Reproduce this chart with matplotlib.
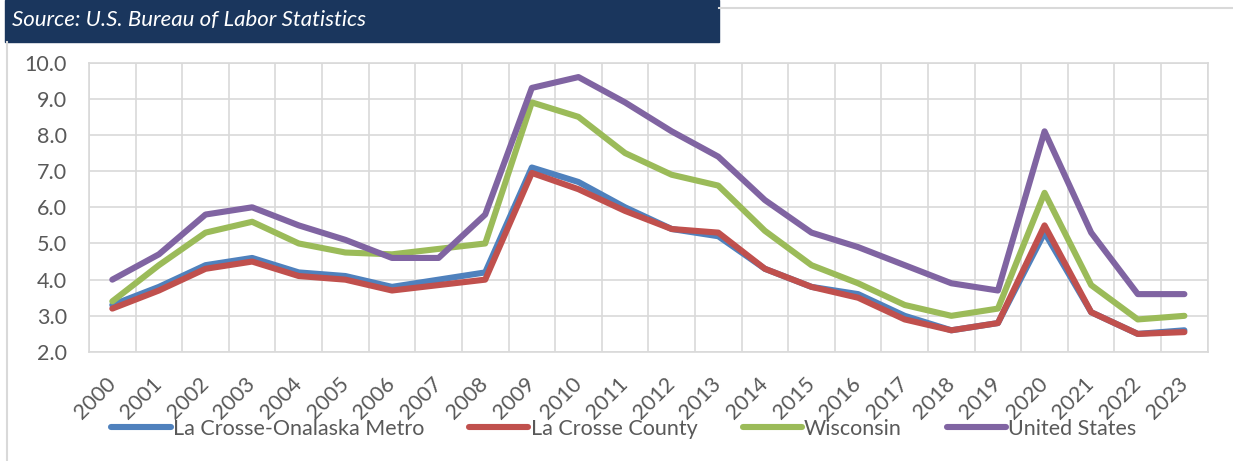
import matplotlib
matplotlib.use('Agg')
import matplotlib.pyplot as plt
from matplotlib.patches import Rectangle
from matplotlib.lines import Line2D
import numpy as np

plt.rcParams['font.family'] = ['Lato', 'DejaVu Sans']

years = [str(y) for y in range(2000, 2024)]
metro = [3.3, 3.8, 4.4, 4.6, 4.2, 4.1, 3.8, 4.0, 4.2, 7.1, 6.7, 6.0,
         5.4, 5.2, 4.3, 3.8, 3.6, 3.0, 2.6, 2.8, 5.3, 3.1, 2.5, 2.6]
county = [3.2, 3.7, 4.3, 4.5, 4.1, 4.0, 3.7, 3.85, 4.0, 6.95, 6.5, 5.9,
          5.4, 5.3, 4.3, 3.8, 3.5, 2.9, 2.6, 2.8, 5.5, 3.1, 2.5, 2.55]
wisconsin = [3.4, 4.4, 5.3, 5.6, 5.0, 4.75, 4.7, 4.85, 5.0, 8.9, 8.5, 7.5,
             6.9, 6.6, 5.35, 4.4, 3.9, 3.3, 3.0, 3.2, 6.4, 3.85, 2.9, 3.0]
us = [4.0, 4.7, 5.8, 6.0, 5.5, 5.1, 4.6, 4.6, 5.8, 9.3, 9.6, 8.9,
      8.1, 7.4, 6.2, 5.3, 4.9, 4.4, 3.9, 3.7, 8.1, 5.3, 3.6, 3.6]

series = [
    ('La Crosse-Onalaska Metro', metro, '#4f81bd'),
    ('La Crosse County', county, '#c0504d'),
    ('Wisconsin', wisconsin, '#9bbb59'),
    ('United States', us, '#8064a2'),
]

W, H = 1233, 461
fig = plt.figure(figsize=(W / 100, H / 100), dpi=100)

# header banner and frame lines
fig.patches.append(Rectangle((5 / W, 1 - 42 / H), 714 / W, 42 / H,
                             transform=fig.transFigure, color='#1a365d', zorder=0))
fig.lines.append(Line2D([719 / W, 1], [1 - 8.5 / H] * 2, transform=fig.transFigure,
                        color='#d9d9d9', lw=1.5))
fig.lines.append(Line2D([7 / W] * 2, [0, 1 - 42 / H], transform=fig.transFigure,
                        color='#d9d9d9', lw=1.5))
fig.text(12 / W, 1 - 20 / H, 'Source: U.S. Bureau of Labor Statistics',
         color='white', style='italic', fontsize=16, va='center', ha='left')

ax = fig.add_axes([89 / W, 1 - 352 / H, (1207.7 - 89) / W, (352 - 62.6) / H])
x = np.arange(len(years))
for name, vals, col in series:
    ax.plot(x, vals, color=col, lw=4.4, label=name, solid_capstyle='round',
            solid_joinstyle='round', zorder=3)

ax.set_xlim(-0.5, len(years) - 0.5)
ax.set_ylim(2, 10)
ax.set_yticks(np.arange(2, 10.01, 1))
ax.set_yticklabels([f'{v:.1f}' for v in np.arange(2, 10.01, 1)])
ax.set_xticks(x)
ax.set_xticklabels(years, rotation=45, ha='right', va='center',
                   rotation_mode='anchor')
ax.set_xticks(np.arange(-0.5, len(years), 1), minor=True)
ax.grid(True, which='minor', axis='x', color='#d9d9d9', lw=1.2)
ax.grid(True, which='major', axis='y', color='#d9d9d9', lw=1.2)
ax.tick_params(axis='both', which='both', length=0, labelsize=15.5,
               labelcolor='#595959')
ax.tick_params(axis='x', pad=21)
ax.tick_params(axis='y', pad=16)
for s in ax.spines.values():
    s.set_color('#d9d9d9')
    s.set_linewidth(1.2)

handles, labels = ax.get_legend_handles_labels()
leg = fig.legend(handles, labels, loc='center', ncol=4,
                 bbox_to_anchor=(624 / W, 1 - 429 / H), frameon=False,
                 fontsize=15.5, handlelength=2.75, handletextpad=0.1,
                 columnspacing=2.1)
for t in leg.get_texts():
    t.set_color('#595959')

fig.savefig('out.png', dpi=100, facecolor='white')
